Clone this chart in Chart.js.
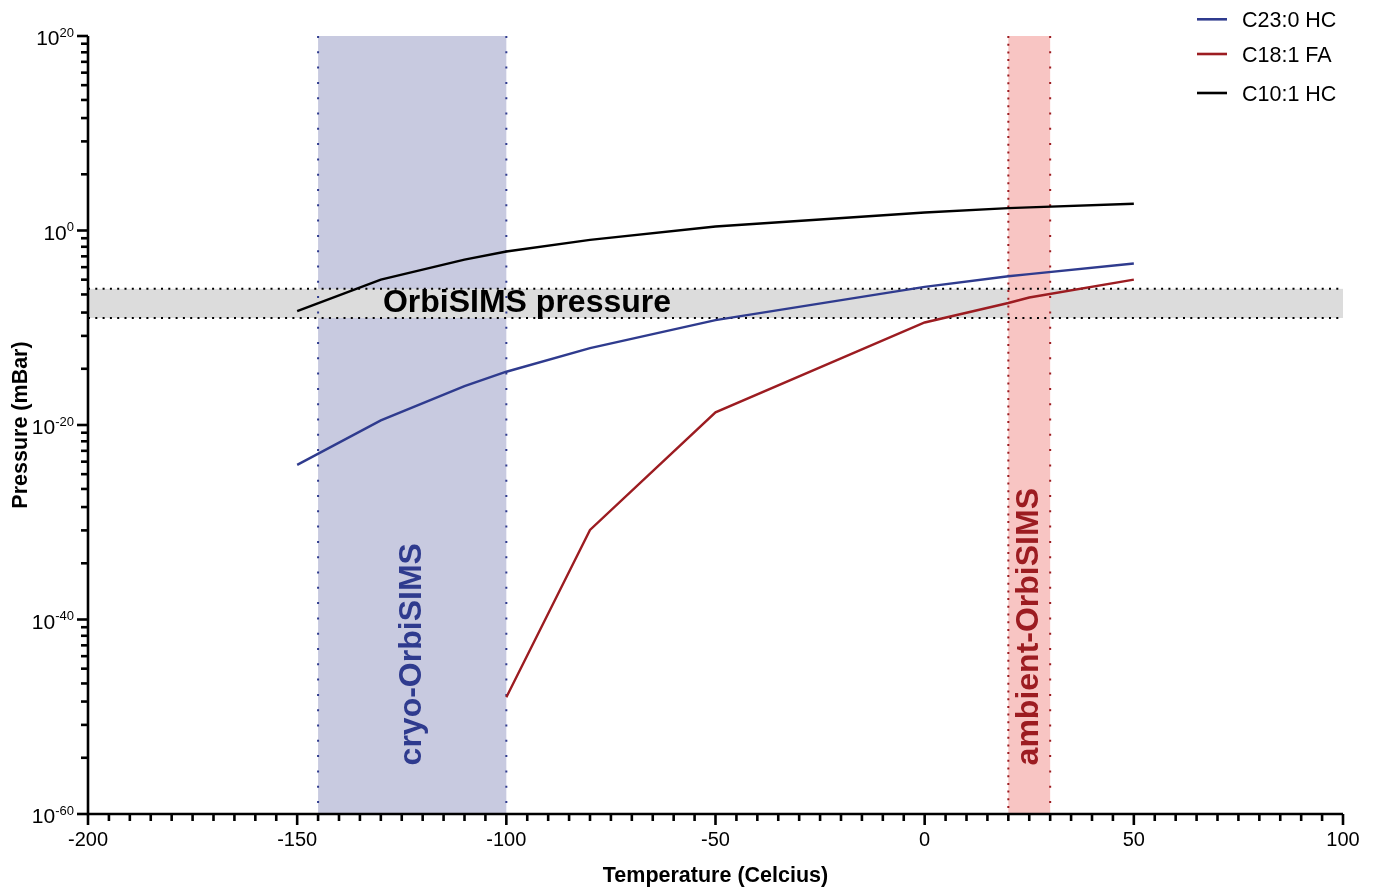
<!DOCTYPE html>
<html>
<head>
<meta charset="utf-8">
<title>Vapour pressure vs temperature</title>
<script src="https://cdn.jsdelivr.net/npm/chart.js@4/dist/chart.umd.min.js"></script>
<style>
  body { margin: 0; background: #fff; }
  canvas { display: block; }
</style>
</head>
<body>
<canvas id="chart" width="1375" height="889"></canvas>
<script>
'use strict';

// temperatures (Celcius) where each curve was evaluated
const temps = [-150, -130, -110, -100, -80, -50, 0, 20, 25, 50];

// vapour pressure in mBar
const c23hc = [8e-25, 3e-20, 1e-16, 3e-15, 8e-13, 6e-10, 1.6e-6, 2e-5, 3.3e-5, 4e-4];
const c18fa = [null, null, null, 1e-48, 1.6e-31, 2e-19, 3.5e-10, 3.5e-8, 1.3e-7, 9e-6];
const c10hc = [5e-9, 9e-6, 1e-3, 7e-3, 0.11, 2.6, 72, 200, 240, 560];

const seriesNames = ['C23:0 HC', 'C18:1 FA', 'C10:1 HC'];

// shaded regions
const cryoRange = [-145, -100];
const ambientRange = [20, 30];
const orbiPressure = [1e-9, 1e-6];

// axis ticks
const xTicks = [-200, -150, -100, -50, 0, 50, 100];
const yTickExps = [-60, -40, -20, 0, 20];

const BLUE = '#2f3b8e';
const RED = '#9c1c21';
const FONT = '"Liberation Sans", Arial, Helvetica, sans-serif';

function toPoints(ys) {
  let pts = [];
  for (let i = 0; i < temps.length; i++) {
    if (ys[i] !== null) pts.push({ x: temps[i], y: ys[i] });
  }
  return pts;
}

function dotted(ctx, x1, y1, x2, y2, color, gap) {
  ctx.save();
  ctx.strokeStyle = color;
  ctx.lineWidth = 2;
  ctx.setLineDash([2, gap]);
  ctx.beginPath();
  ctx.moveTo(x1, y1);
  ctx.lineTo(x2, y2);
  ctx.stroke();
  ctx.restore();
}

const bandsPlugin = {
  id: 'bands',
  beforeDatasetsDraw(chart) {
    const ctx = chart.ctx;
    const xs = chart.scales.x, ys = chart.scales.y;
    const area = chart.chartArea;

    const cx1 = xs.getPixelForValue(cryoRange[0]), cx2 = xs.getPixelForValue(cryoRange[1]);
    const ax1 = xs.getPixelForValue(ambientRange[0]), ax2 = xs.getPixelForValue(ambientRange[1]);
    const py1 = ys.getPixelForValue(orbiPressure[1]), py2 = ys.getPixelForValue(orbiPressure[0]);

    ctx.save();
    ctx.fillStyle = '#c8cae0';
    ctx.fillRect(cx1, area.top, cx2 - cx1, area.bottom - area.top);
    ctx.fillStyle = '#dcdcdc';
    ctx.fillRect(area.left, py1, area.right - area.left, py2 - py1);
    ctx.fillStyle = '#f8c5c3';
    ctx.fillRect(ax1, area.top, ax2 - ax1, area.bottom - area.top);
    ctx.restore();

    dotted(ctx, cx1, area.top, cx1, area.bottom, BLUE, 13.3);
    dotted(ctx, cx2, area.top, cx2, area.bottom, BLUE, 13.3);
    dotted(ctx, ax1, area.top, ax1, area.bottom, RED, 5.7);
    dotted(ctx, ax2, area.top, ax2, area.bottom, RED, 13.3);
    dotted(ctx, area.left, py1, area.right, py1, '#000', 5.3);
    dotted(ctx, area.left, py2, area.right, py2, '#000', 5.3);
  },
  afterDatasetsDraw(chart) {
    const ctx = chart.ctx;
    const xs = chart.scales.x, ys = chart.scales.y;
    const midP = Math.sqrt(orbiPressure[0] * orbiPressure[1]);

    ctx.save();
    ctx.font = 'bold 32px ' + FONT;
    ctx.fillStyle = '#000';
    ctx.textAlign = 'left';
    ctx.textBaseline = 'middle';
    ctx.fillText('OrbiSIMS pressure', xs.getPixelForValue(-129.5), ys.getPixelForValue(midP));

    // vertical labels inside the temperature bands
    const labels = [
      ['cryo-OrbiSIMS', (cryoRange[0] + cryoRange[1]) / 2, BLUE],
      ['ambient-OrbiSIMS', (ambientRange[0] + ambientRange[1]) / 2, RED]
    ];
    labels.forEach(([text, xv, color]) => {
      ctx.save();
      ctx.translate(xs.getPixelForValue(xv), ys.getPixelForValue(1e-55));
      ctx.rotate(-Math.PI / 2);
      ctx.fillStyle = color;
      ctx.textAlign = 'left';
      ctx.textBaseline = 'middle';
      ctx.fillText(text, 0, 0);
      ctx.restore();
    });
    ctx.restore();
  }
};

const axesPlugin = {
  id: 'axes',
  afterDraw(chart) {
    const ctx = chart.ctx;
    const xs = chart.scales.x, ys = chart.scales.y;
    const area = chart.chartArea;

    ctx.save();
    ctx.strokeStyle = '#000';
    ctx.fillStyle = '#000';
    ctx.lineWidth = 2.6;
    ctx.lineCap = 'butt';

    // axis lines
    ctx.beginPath();
    ctx.moveTo(area.left, area.top);
    ctx.lineTo(area.left, area.bottom);
    ctx.lineTo(area.right, area.bottom);
    ctx.stroke();

    // x ticks: major every 50, minor every 5
    for (let v = xTicks[0]; v <= xTicks[xTicks.length - 1]; v += 5) {
      const px = xs.getPixelForValue(v);
      const len = v % 50 === 0 ? 11 : 7;
      ctx.beginPath();
      ctx.moveTo(px, area.bottom);
      ctx.lineTo(px, area.bottom + len);
      ctx.stroke();
    }
    ctx.font = '20px ' + FONT;
    ctx.textAlign = 'center';
    ctx.textBaseline = 'alphabetic';
    xTicks.forEach(v => {
      ctx.fillText(String(v), xs.getPixelForValue(v), area.bottom + 32);
    });

    // y ticks: major every 20 decades, minor ticks spread inside each span
    for (let i = 0; i < yTickExps.length; i++) {
      const e = yTickExps[i];
      const py = ys.getPixelForValue(Math.pow(10, e));
      ctx.beginPath();
      ctx.moveTo(area.left, py);
      ctx.lineTo(area.left - 11, py);
      ctx.stroke();
      if (i < yTickExps.length - 1) {
        const span = yTickExps[i + 1] - e;
        for (let k = 2; k <= 10; k++) {
          const me = e + span * Math.log(k) / Math.log(11);
          const my = ys.getPixelForValue(Math.pow(10, me));
          ctx.beginPath();
          ctx.moveTo(area.left, my);
          ctx.lineTo(area.left - 7, my);
          ctx.stroke();
        }
      }
      // label 10^e
      const sup = String(e);
      ctx.textAlign = 'left';
      ctx.font = '13px ' + FONT;
      const supW = ctx.measureText(sup).width;
      ctx.font = '21px ' + FONT;
      const baseW = ctx.measureText('10').width;
      const right = area.left - 14;
      ctx.fillText('10', right - supW - baseW, py + 9);
      ctx.font = '13px ' + FONT;
      ctx.fillText(sup, right - supW, py + 0.5);
    }

    // axis titles
    ctx.font = 'bold 21.5px ' + FONT;
    ctx.textAlign = 'center';
    ctx.fillText('Temperature (Celcius)', (area.left + area.right) / 2, 882);
    ctx.save();
    ctx.translate(27, (area.top + area.bottom) / 2);
    ctx.rotate(-Math.PI / 2);
    ctx.fillText('Pressure (mBar)', 0, 0);
    ctx.restore();

    // legend
    const rows = [19.3, 54, 93];
    chart.data.datasets.forEach((ds, i) => {
      ctx.strokeStyle = ds.borderColor;
      ctx.lineWidth = 2.6;
      ctx.beginPath();
      ctx.moveTo(1197, rows[i]);
      ctx.lineTo(1227, rows[i]);
      ctx.stroke();
      ctx.fillStyle = '#000';
      ctx.font = '21.5px ' + FONT;
      ctx.textAlign = 'left';
      ctx.fillText(ds.label, 1242, rows[i] + 7.5);
    });
    ctx.restore();
  }
};

const ctx = document.getElementById('chart');

new Chart(ctx, {
  type: 'line',
  data: {
    datasets: [{
      label: seriesNames[0],
      data: toPoints(c23hc),
      borderColor: BLUE,
      borderWidth: 2.4
    }, {
      label: seriesNames[1],
      data: toPoints(c18fa),
      borderColor: RED,
      borderWidth: 2.4
    }, {
      label: seriesNames[2],
      data: toPoints(c10hc),
      borderColor: '#000',
      borderWidth: 2.4
    }]
  },
  options: {
    responsive: false,
    animation: false,
    events: [],
    layout: { padding: { left: 88, right: 32, top: 36, bottom: 75 } },
    elements: {
      point: { radius: 0 },
      line: { tension: 0, fill: false }
    },
    plugins: {
      legend: { display: false },
      tooltip: { enabled: false }
    },
    scales: {
      x: { type: 'linear', min: -200, max: 100, display: false },
      y: { type: 'logarithmic', min: 1e-60, max: 1e20, display: false }
    }
  },
  plugins: [bandsPlugin, axesPlugin]
});
</script>
</body>
</html>
